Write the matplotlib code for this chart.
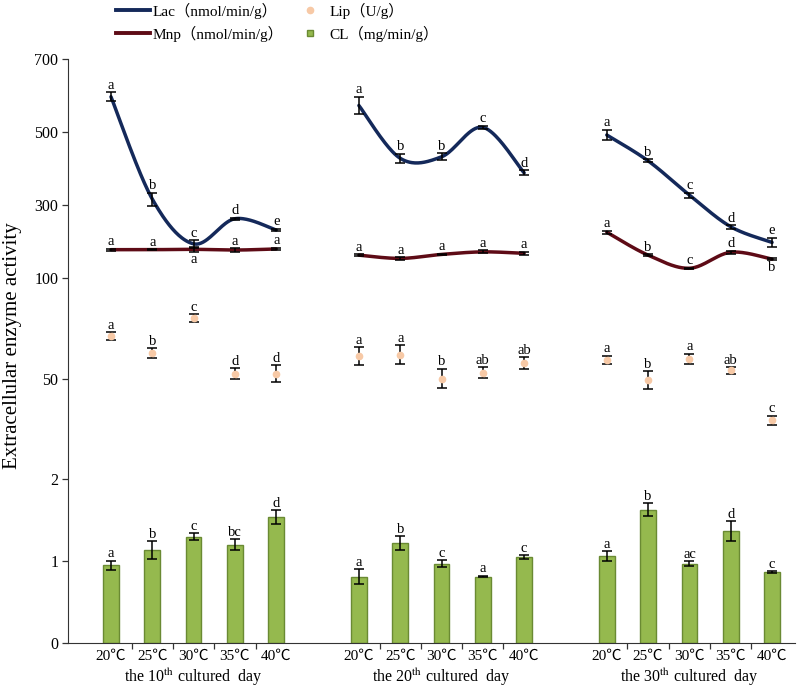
import numpy as np
import matplotlib
matplotlib.use("Agg")
import matplotlib.pyplot as plt
from matplotlib.lines import Line2D

plt.rcParams['font.family'] = ['Liberation Serif', 'Noto Sans CJK SC', 'DejaVu Sans']
plt.rcParams['mathtext.fontset'] = 'stix'

temps = ["20℃", "25℃", "30℃", "35℃", "40℃"]
days = ["10", "20", "30"]

# values, 5 temperatures x 3 culture days
lac = [597, 316, 193, 262, 231, 573, 428, 432, 513, 388, 492, 421, 327, 240, 197]
lac_err = [12, 18, 10, 3, 4, 24, 13, 10, 5, 7, 14, 4, 7, 5, 13]
lac_sig = ["a", "b", "c", "d", "e", "a", "b", "b", "c", "d", "a", "b", "c", "d", "e"]

mnp = [177, 177, 178, 176, 179, 162, 153, 164, 171, 167, 225, 162, 126, 170, 151]
mnp_err = [3, 2, 6, 5, 4, 3, 4, 2, 4, 5, 4, 3, 2, 4, 2]
mnp_sig = ["a", "a", "a", "a", "a", "a", "a", "a", "a", "a", "a", "b", "c", "d", "b"]
mnp_below = [False, False, True, False, False, False, False, False, False, False,
             False, False, False, False, True]

lip = [71, 62.7, 80, 52.5, 52.5, 61, 61.8, 50, 52.8, 57.7, 59.4, 49.2, 59.9, 54.1, 29.3]
lip_err = [2, 2.3, 1.9, 2.5, 4, 4.4, 4.8, 4.9, 2.7, 2.9, 2, 4.4, 2.5, 1.6, 2.2]
lip_sig = ["a", "b", "c", "d", "d", "a", "a", "b", "ab", "ab", "a", "b", "a", "ab", "c"]

cl = [0.95, 1.13, 1.30, 1.20, 1.54, 0.81, 1.22, 0.97, 0.81, 1.045, 1.06, 1.63, 0.97, 1.37, 0.87]
cl_err = [0.053, 0.11, 0.04, 0.067, 0.08, 0.088, 0.085, 0.04, 0.01, 0.025,
          0.063, 0.08, 0.027, 0.12, 0.01]
cl_sig = ["a", "b", "c", "bc", "d", "a", "b", "c", "a", "c", "a", "b", "ac", "d", "c"]

LAC_C = "#14295a"
MNP_C = "#5e0b16"
LIP_C = "#f7c9a6"
CL_C = "#95b94e"


def smooth(xs, ys, n=40):
    # Catmull-Rom curve through the points (like a "smoothed line" chart)
    xs = np.asarray(xs, float)
    ys = np.asarray(ys, float)
    px = np.r_[xs[0], xs, xs[-1]]
    py = np.r_[ys[0], ys, ys[-1]]
    t = np.linspace(0, 1, n)[:, None]
    out_x, out_y = [], []
    for i in range(1, len(xs)):
        for p, out in ((px, out_x), (py, out_y)):
            p0, p1, p2, p3 = p[i - 1], p[i], p[i + 1], p[i + 2]
            c = 0.5 * ((2 * p1) + (-p0 + p2) * t + (2 * p0 - 5 * p1 + 4 * p2 - p3) * t ** 2
                       + (-p0 + 3 * p1 - 3 * p2 + p3) * t ** 3)
            out.append(c.ravel())
    return np.concatenate(out_x), np.concatenate(out_y)


x = np.array([g * 6 + i for g in range(3) for i in range(5)], dtype=float)

fig = plt.figure(figsize=(8, 6.89), dpi=100)
gs = fig.add_gridspec(3, 1, height_ratios=[218.4, 201.6, 163.4], hspace=0,
                      left=0.085, right=0.994, top=0.914, bottom=0.067)
ax_top = fig.add_subplot(gs[0])
ax_mid = fig.add_subplot(gs[1], sharex=ax_top)
ax_bot = fig.add_subplot(gs[2], sharex=ax_top)

for ax in (ax_top, ax_mid, ax_bot):
    ax.spines[['top', 'right']].set_visible(False)
    ax.spines['left'].set_color('#333333')
    ax.tick_params(axis='y', direction='out', length=4, width=0.9, colors='#333333',
                   labelcolor='black', labelsize=11.5, pad=3)
for ax in (ax_top, ax_mid):
    ax.spines['bottom'].set_visible(False)
    ax.tick_params(axis='x', which='both', bottom=False, labelbottom=False)

ax_top.set_ylim(100, 700)
ax_top.set_yticks([100, 300, 500, 700])
ax_mid.set_ylim(0, 100)
ax_mid.set_yticks([50])
ax_bot.set_ylim(0, 2)
ax_bot.set_yticks([0, 1, 2])
ax_bot.set_xlim(-1.04, 16.56)

lab_kw = dict(textcoords='offset points', ha='center', fontsize=10.5)

# Lac and Mnp: smoothed lines per culture day
for g in range(3):
    s = slice(g * 5, g * 5 + 5)
    sx, sy = smooth(x[s], lac[s])
    ax_top.plot(sx, sy, color=LAC_C, lw=2.5, solid_capstyle='round', zorder=3)
    sx, sy = smooth(x[s], mnp[s])
    ax_top.plot(sx, sy, color=MNP_C, lw=2.5, solid_capstyle='round', zorder=3)
ax_top.errorbar(x, lac, yerr=lac_err, fmt='none', ecolor='black', elinewidth=1.1,
                capsize=3.5, capthick=1.1, zorder=4)
ax_top.errorbar(x, mnp, yerr=mnp_err, fmt='none', ecolor='black', elinewidth=1.1,
                capsize=3.5, capthick=1.1, zorder=4)
for xi, v, e, s in zip(x, lac, lac_err, lac_sig):
    ax_top.annotate(s, (xi, v + e), xytext=(0, 0.3), va='bottom', **lab_kw)
for xi, v, e, s, below in zip(x, mnp, mnp_err, mnp_sig, mnp_below):
    if below:
        ax_top.annotate(s, (xi, v - e), xytext=(0, -1), va='top', **lab_kw)
    else:
        ax_top.annotate(s, (xi, v + e), xytext=(0, 0.3), va='bottom', **lab_kw)

# Lip: points with error bars
ax_mid.errorbar(x, lip, yerr=lip_err, fmt='o', color=LIP_C, ms=4.5, mec=LIP_C,
                ecolor='black', elinewidth=1.1, capsize=3.5, capthick=1.1, zorder=3)
for xi, v, e, s in zip(x, lip, lip_err, lip_sig):
    ax_mid.annotate(s, (xi, v + e), xytext=(0, 0.3), va='bottom', **lab_kw)

# CL: bars
ax_bot.bar(x, cl, width=0.38, color=CL_C, edgecolor='#6a8a33', linewidth=1.0, zorder=2)
ax_bot.errorbar(x, cl, yerr=cl_err, fmt='none', ecolor='black', elinewidth=1.1,
                capsize=3.5, capthick=1.1, zorder=3)
for xi, v, e, s in zip(x, cl, cl_err, cl_sig):
    ax_bot.annotate(s, (xi, v + e), xytext=(0, 0.3), va='bottom', **lab_kw)

ax_bot.spines['bottom'].set_color('#333333')
ax_bot.set_xticks(x)
ax_bot.set_xticklabels(temps * 3, fontsize=11)
ax_bot.tick_params(axis='x', which='major', length=0, pad=5)
minor = [g * 6 + i + 0.5 for g in range(3) for i in range(4)]
ax_bot.set_xticks(minor, minor=True)
ax_bot.tick_params(axis='x', which='minor', direction='out', length=4, width=0.9,
                   colors='#333333')

for g, d in enumerate(days):
    ax_bot.annotate(f"the {d}$^{{\\mathrm{{th}}}}$ cultured  day", (g * 6 + 2, 0),
                    xycoords=('data', 'axes fraction'), xytext=(0, -25),
                    textcoords='offset points', ha='center', va='center', fontsize=11.5)

fig.text(0.016, 0.498, "Extracellular enzyme activity", rotation=90,
         ha='center', va='center', fontsize=15)

handles = [
    Line2D([], [], color=LAC_C, lw=2.8),
    Line2D([], [], color=MNP_C, lw=2.8),
    Line2D([], [], ls='none', marker='o', color=LIP_C, ms=4.5),
    Line2D([], [], ls='none', marker='s', color=CL_C, mec='#6a8a33', ms=5),
]
labels = ["Lac（nmol/min/g）", "Mnp（nmol/min/g）", "Lip（U/g）", "CL（mg/min/g）"]
fig.legend(handles, labels, ncol=2, loc='center left', bbox_to_anchor=(0.128, 0.968),
           frameon=False, fontsize=11, handlelength=2.2, handletextpad=0.2,
           columnspacing=0.6, labelspacing=0.45)

fig.savefig("out.png", dpi=100)
